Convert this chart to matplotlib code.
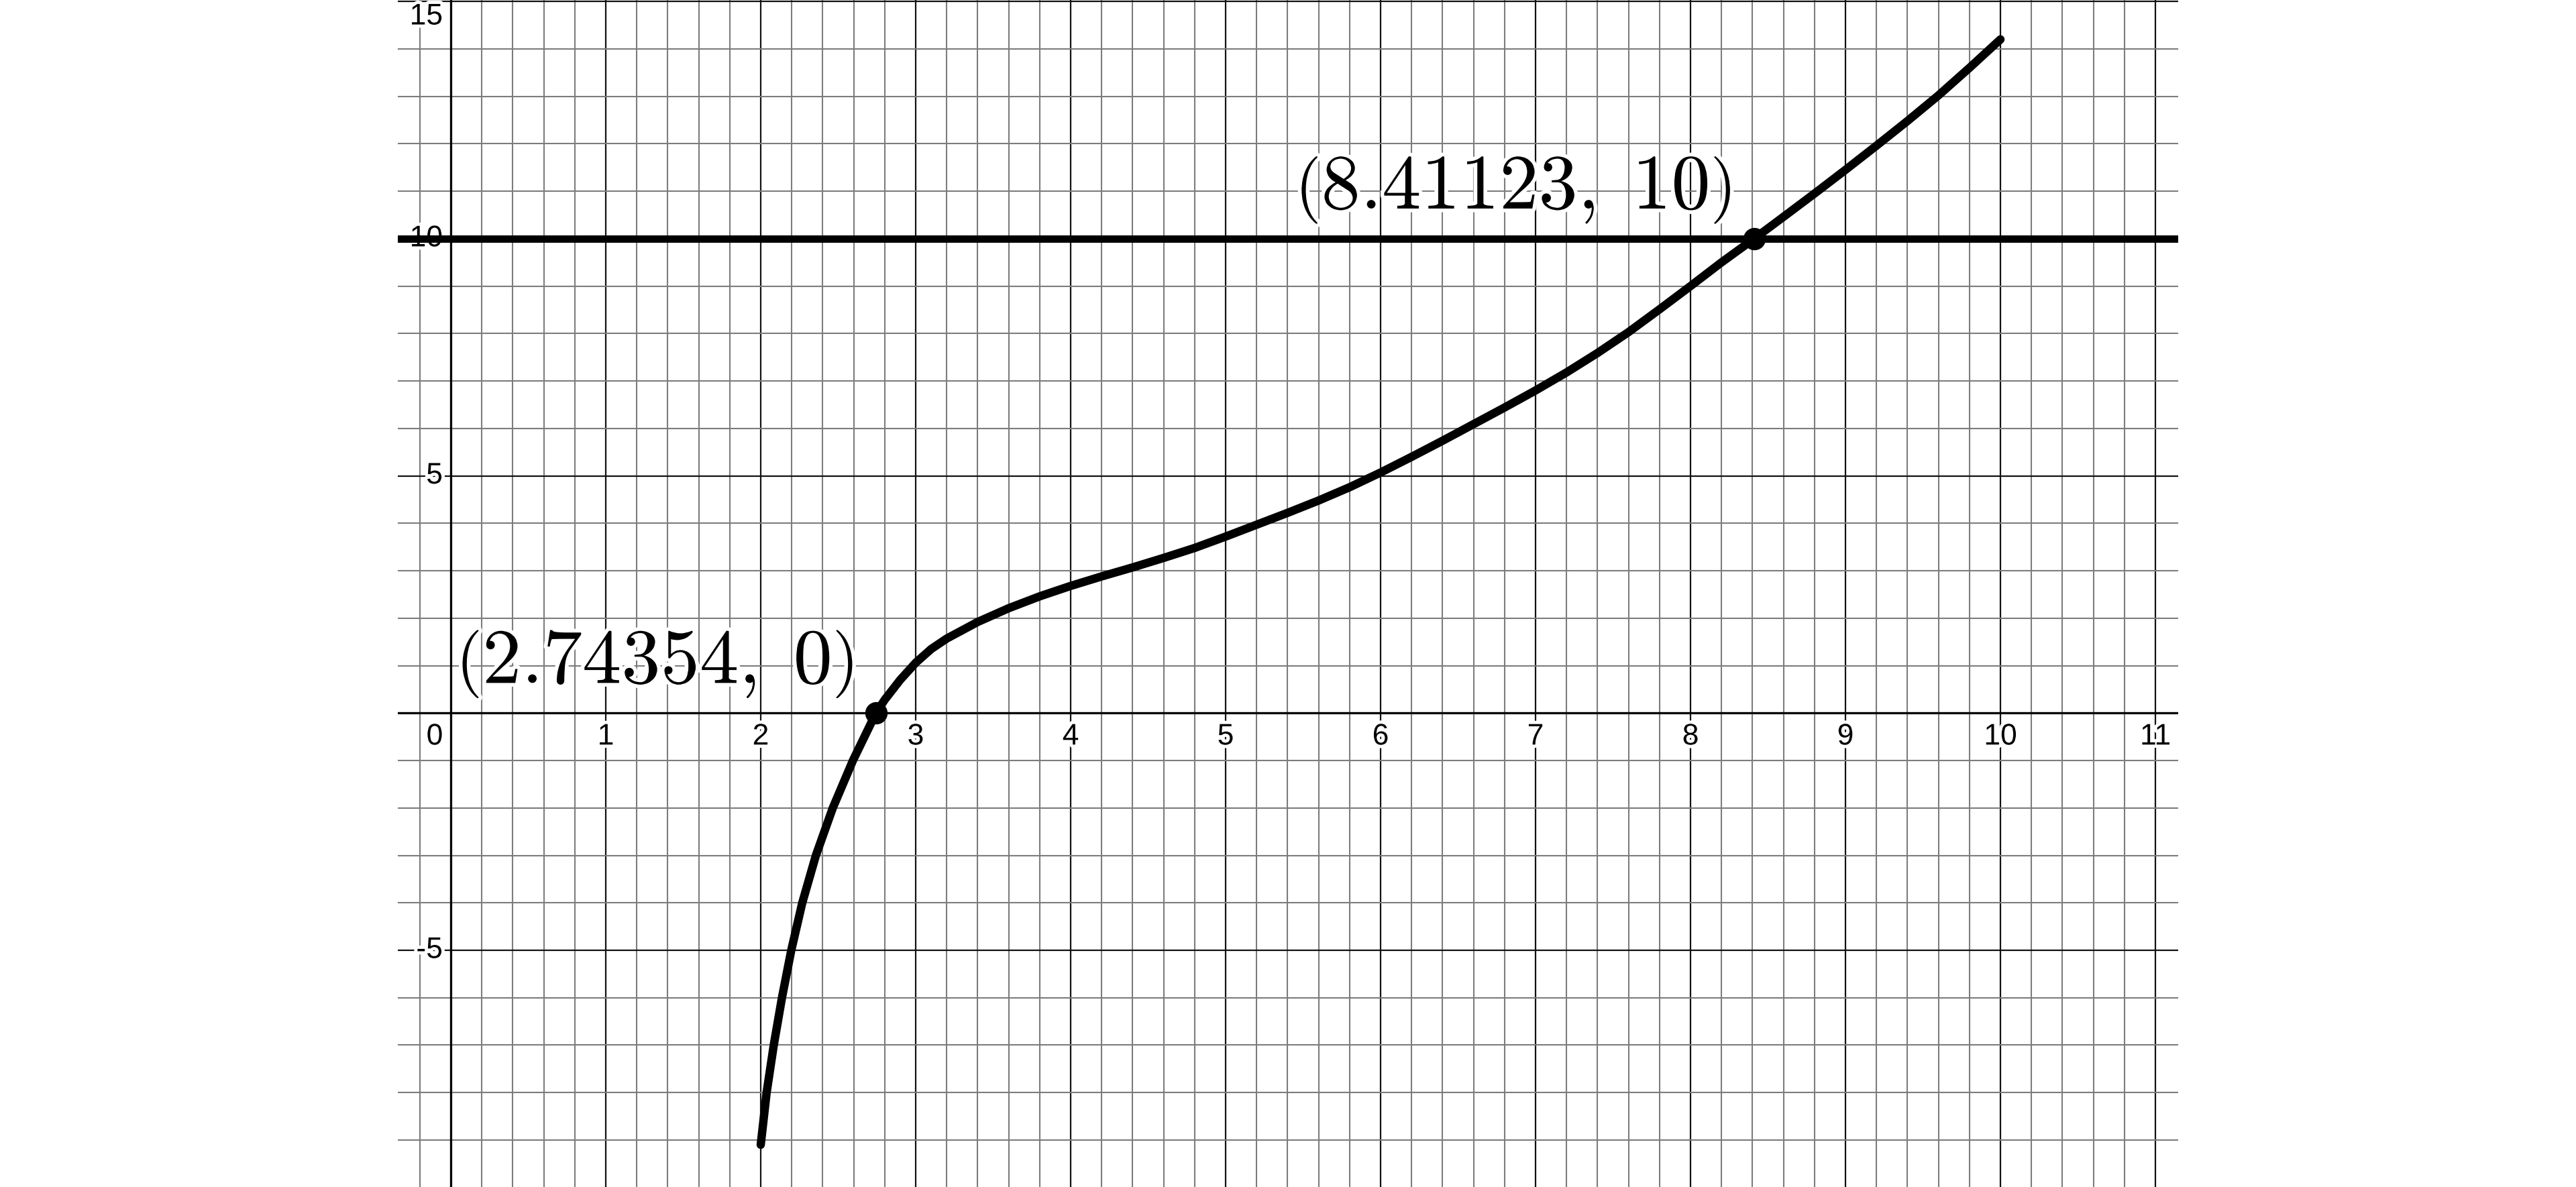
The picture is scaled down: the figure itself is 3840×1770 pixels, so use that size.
import matplotlib
matplotlib.use("Agg")
import matplotlib.pyplot as plt
import matplotlib.patheffects as pe
from matplotlib.ticker import MultipleLocator
from matplotlib.transforms import offset_copy

# curve values
curve_x = [2.00, 2.038, 2.084, 2.137, 2.197, 2.268, 2.356, 2.465, 2.595, 2.74354,
           2.8, 2.9, 3.0, 3.1, 3.2, 3.4, 3.6, 3.8, 4.0, 4.2,
           4.4, 4.6, 4.8, 5.0, 5.2, 5.4, 5.6, 5.8, 6.0, 6.2,
           6.4, 6.6, 6.8, 7.0, 7.2, 7.4, 7.6, 7.8, 8.0, 8.2,
           8.41123, 8.6, 8.8, 9.0, 9.2, 9.4, 9.6, 9.8, 10.0]
curve_y = [-9.1, -8, -7, -6, -5, -4, -3, -2, -1, 0,
           0.28, 0.70, 1.06, 1.35, 1.57, 1.92, 2.21, 2.46, 2.68, 2.88,
           3.07, 3.27, 3.48, 3.72, 3.97, 4.22, 4.48, 4.76, 5.07, 5.40,
           5.74, 6.09, 6.44, 6.80, 7.18, 7.59, 8.03, 8.51, 9.00, 9.50,
           10.0, 10.46, 10.95, 11.45, 11.96, 12.48, 13.02, 13.60, 14.20]

hline_y = 10
points_x = [2.74354, 8.41123]
points_y = [0, 10]
point_labels = [r"$\left(2.74354,\;0\right)$", r"$\left(8.41123,\;10\right)$"]

x_ticks = [0, 1, 2, 3, 4, 5, 6, 7, 8, 9, 10, 11]
y_ticks = [15, 10, 5, -5]

xlim = (-0.342, 11.147)
ylim = (-9.99, 15.03)

plt.rcParams["mathtext.fontset"] = "cm"

fig = plt.figure(figsize=(38.4, 17.7), dpi=100)
ax = fig.add_axes([593 / 3840, 0, (3247 - 593) / 3840, 1])
ax.set_xlim(*xlim)
ax.set_ylim(*ylim)

ax.xaxis.set_major_locator(MultipleLocator(1))
ax.xaxis.set_minor_locator(MultipleLocator(0.2))
ax.yaxis.set_major_locator(MultipleLocator(5))
ax.yaxis.set_minor_locator(MultipleLocator(1))
ax.grid(which="minor", color="#7c7c7c", lw=1.5)
ax.grid(which="major", color="#111111", lw=1.6)
ax.set_axisbelow(True)
ax.tick_params(which="both", length=0, labelbottom=False, labelleft=False)
for s in ax.spines.values():
    s.set_visible(False)

ax.axhline(0, color="black", lw=2.3, zorder=2)
ax.axvline(0, color="black", lw=2.3, zorder=2)

halo = [pe.withStroke(linewidth=7, foreground="white")]
tick_font = dict(family="Liberation Sans", fontsize=32, color="black",
                 path_effects=halo, zorder=3)

below = offset_copy(ax.transData, fig=fig, x=0, y=-15, units="dots")
for v in x_ticks:
    if v == 0:
        tr = offset_copy(ax.transData, fig=fig, x=-24, y=-15, units="dots")
        ax.text(v, 0, str(v), transform=tr, ha="center", va="top", **tick_font)
    else:
        ax.text(v, 0, str(v), transform=below, ha="center", va="top", **tick_font)

left = offset_copy(ax.transData, fig=fig, x=-12, y=0, units="dots")
top_room = 25 / (1770 / (ylim[1] - ylim[0]))
for v in y_ticks:
    yp = min(v, ylim[1] - top_room)
    ax.text(0, yp, str(v), transform=left, ha="right", va="center", **tick_font)

ax.axhline(hline_y, color="black", lw=7.9, zorder=4)
ax.plot(curve_x, curve_y, color="black", lw=9.0, solid_capstyle="round",
        solid_joinstyle="round", zorder=5)
ax.plot(points_x, points_y, "o", color="black", markersize=23, zorder=6)

for px, py, lab in zip(points_x, points_y, point_labels):
    ax.annotate(lab, (px, py), xytext=(-24, 14), textcoords="offset points",
                ha="right", va="bottom", fontsize=84, color="black",
                path_effects=[pe.withStroke(linewidth=8, foreground="white")],
                zorder=3)

fig.savefig("out.png", dpi=100, facecolor="white")
